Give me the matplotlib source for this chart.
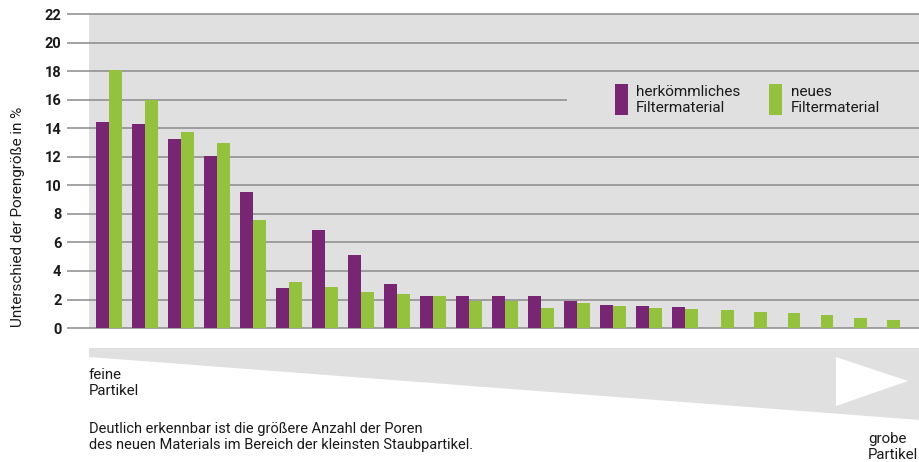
"""
Porengröße: herkömmliches vs. neues Filtermaterial
"""
import numpy as np
import matplotlib.pyplot as plt
from matplotlib.patches import Polygon, Rectangle

plt.rcParams['font.family'] = ['Roboto', 'DejaVu Sans']

# values (in %)
alt = [14.45, 14.3, 13.26, 12.06, 9.54, 2.81, 6.87, 5.12, 3.09, 2.24, 2.24,
       2.24, 2.24, 1.89, 1.61, 1.54, 1.47]
neu = [18.1, 16.0, 13.75, 12.98, 7.58, 3.23, 2.88, 2.53, 2.38, 2.24, 1.89,
       1.89, 1.40, 1.75, 1.54, 1.40, 1.33, 1.26, 1.12, 1.05, 0.91, 0.70, 0.56]
y_ticks = list(range(0, 23, 2))

purple = '#782673'
green = '#94c13e'
bg = '#e0e0e0'
grid_col = '#8a8a8a'
txt = '#1a1a1a'
w = 0.35

# group positions: paired groups every 1 unit, the green-only ones a bit tighter
pos = np.concatenate([np.arange(len(alt)), len(alt) + np.arange(len(neu) - len(alt)) * 0.925])

fig = plt.figure(figsize=(9.2, 4.62), dpi=100)
ax = fig.add_axes([67 / 920, (462 - 328) / 462, 853 / 920, (328 - 14.5) / 462])
ax.set_xlim(-1.167, 22.53)
ax.set_ylim(0, 22)
ax.axvspan(-0.556, 22.53, color=bg, zorder=0, lw=0)

for v in y_ticks:
    right = 12.72 if v == 16 else 22.53
    ax.hlines(v, -1.167, right, color=grid_col, lw=1.1, zorder=1, clip_on=False)

ax.bar(pos[:len(alt)] - w / 2, alt, width=w, color=purple, zorder=2)
ax.bar(pos[:len(alt)] + w / 2, neu[:len(alt)], width=w, color=green, zorder=2)
ax.bar(pos[len(alt):] + w / 2, neu[len(alt):], width=w, color=green, zorder=2)

ax.set_yticks(y_ticks)
ax.set_yticklabels([str(t) for t in y_ticks], fontweight='bold', fontsize=10.5, color=txt)
ax.tick_params(axis='y', length=0, pad=4)
ax.set_xticks([])
for s in ax.spines.values():
    s.set_visible(False)
ax.set_ylabel('Unterschied der Porengröße in %', fontsize=11, color=txt)
ax.yaxis.set_label_coords(-0.049, 0.354)

# overlay in pixel units for the decoration below the chart and the legend
ov = fig.add_axes([0, 0, 1, 1], zorder=3)
ov.set_xlim(0, 920)
ov.set_ylim(462, 0)
ov.axis('off')
ov.patch.set_visible(False)

ov.add_patch(Polygon([(89, 348), (920, 348), (920, 420), (89, 357)], closed=True, color=bg, lw=0))
ov.add_patch(Polygon([(836, 357), (836, 406), (908, 381)], closed=True, color='white', lw=0))

ov.add_patch(Rectangle((615, 84), 13, 31, color=purple, lw=0))
ov.add_patch(Rectangle((769, 84), 13, 31, color=green, lw=0))
ov.text(636, 100, 'herkömmliches\nFiltermaterial', fontsize=11, va='center', ha='left',
        linespacing=1.15, color=txt)
ov.text(791, 100, 'neues\nFiltermaterial', fontsize=11, va='center', ha='left',
        linespacing=1.15, color=txt)

ov.text(89, 383, 'feine\nPartikel', fontsize=10.8, va='center', ha='left', linespacing=1.15, color=txt)
ov.text(89, 437, 'Deutlich erkennbar ist die größere Anzahl der Poren\n'
        'des neuen Materials im Bereich der kleinsten Staubpartikel.',
        fontsize=10.5, va='center', ha='left', linespacing=1.15, color=txt)
ov.text(868, 447, 'grobe\nPartikel', fontsize=10.8, va='center', ha='left', linespacing=1.15, color=txt)

fig.savefig('out.png', dpi=100)
